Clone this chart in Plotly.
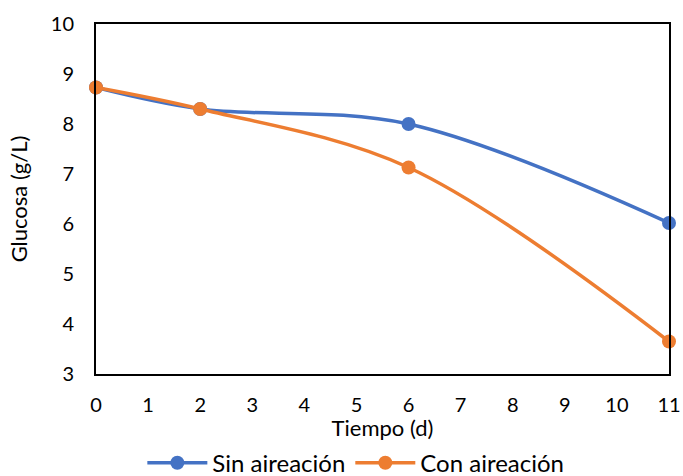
import plotly.graph_objects as go

tiempo = [0, 2, 6, 11]
sin_aireacion = [8.73, 8.30, 8.00, 6.02]
con_aireacion = [8.73, 8.30, 7.13, 3.65]
x_ticks = list(range(0, 12))
y_ticks = list(range(3, 11))

FONT = "Lato"
TICKFONT = dict(family=FONT, size=20, color="black")
TITLEFONT = dict(family=FONT, size=22, color="black")

fig = go.Figure()
fig.add_trace(go.Scatter(x=tiempo, y=sin_aireacion, name="Sin aireación", mode="lines+markers",
                         line=dict(color="#4472C4", width=3.5, shape="spline", smoothing=1),
                         marker=dict(size=14, color="#4472C4"), cliponaxis=False))
fig.add_trace(go.Scatter(x=tiempo, y=con_aireacion, name="Con aireación", mode="lines+markers",
                         line=dict(color="#ED7D31", width=3.5, shape="spline", smoothing=1),
                         marker=dict(size=14, color="#ED7D31"), cliponaxis=False))

fig.update_layout(
    width=683, height=476,
    margin=dict(l=96, r=14, t=24, b=102, autoexpand=False),
    paper_bgcolor="white", plot_bgcolor="white",
    font=dict(family=FONT, size=20, color="black"),
    showlegend=True,
    legend=dict(orientation="h", x=0.521, xanchor="center", xref="container",
                y=0.027, yanchor="middle", yref="container",
                font=dict(family=FONT, size=24, color="black"), itemwidth=60, tracegroupgap=0),
    xaxis=dict(range=[0, 11], tickvals=x_ticks, showgrid=False, zeroline=False,
               showline=True, linecolor="black", linewidth=2, mirror=True, ticks="",
               tickfont=TICKFONT,
               title=dict(text="Tiempo (d)", standoff=19, font=TITLEFONT),
               automargin=False),
    yaxis=dict(range=[3, 10], tickvals=y_ticks, showgrid=False, zeroline=False,
               showline=True, linecolor="black", linewidth=2, mirror=True, ticks="",
               tickfont=TICKFONT,
               title=dict(text="Glucosa (g/L)", standoff=17, font=TITLEFONT),
               automargin=False),
)
fig.update_xaxes(ticklabelstandoff=12)
fig.update_yaxes(ticklabelstandoff=16)
fig.write_html("out.html")
